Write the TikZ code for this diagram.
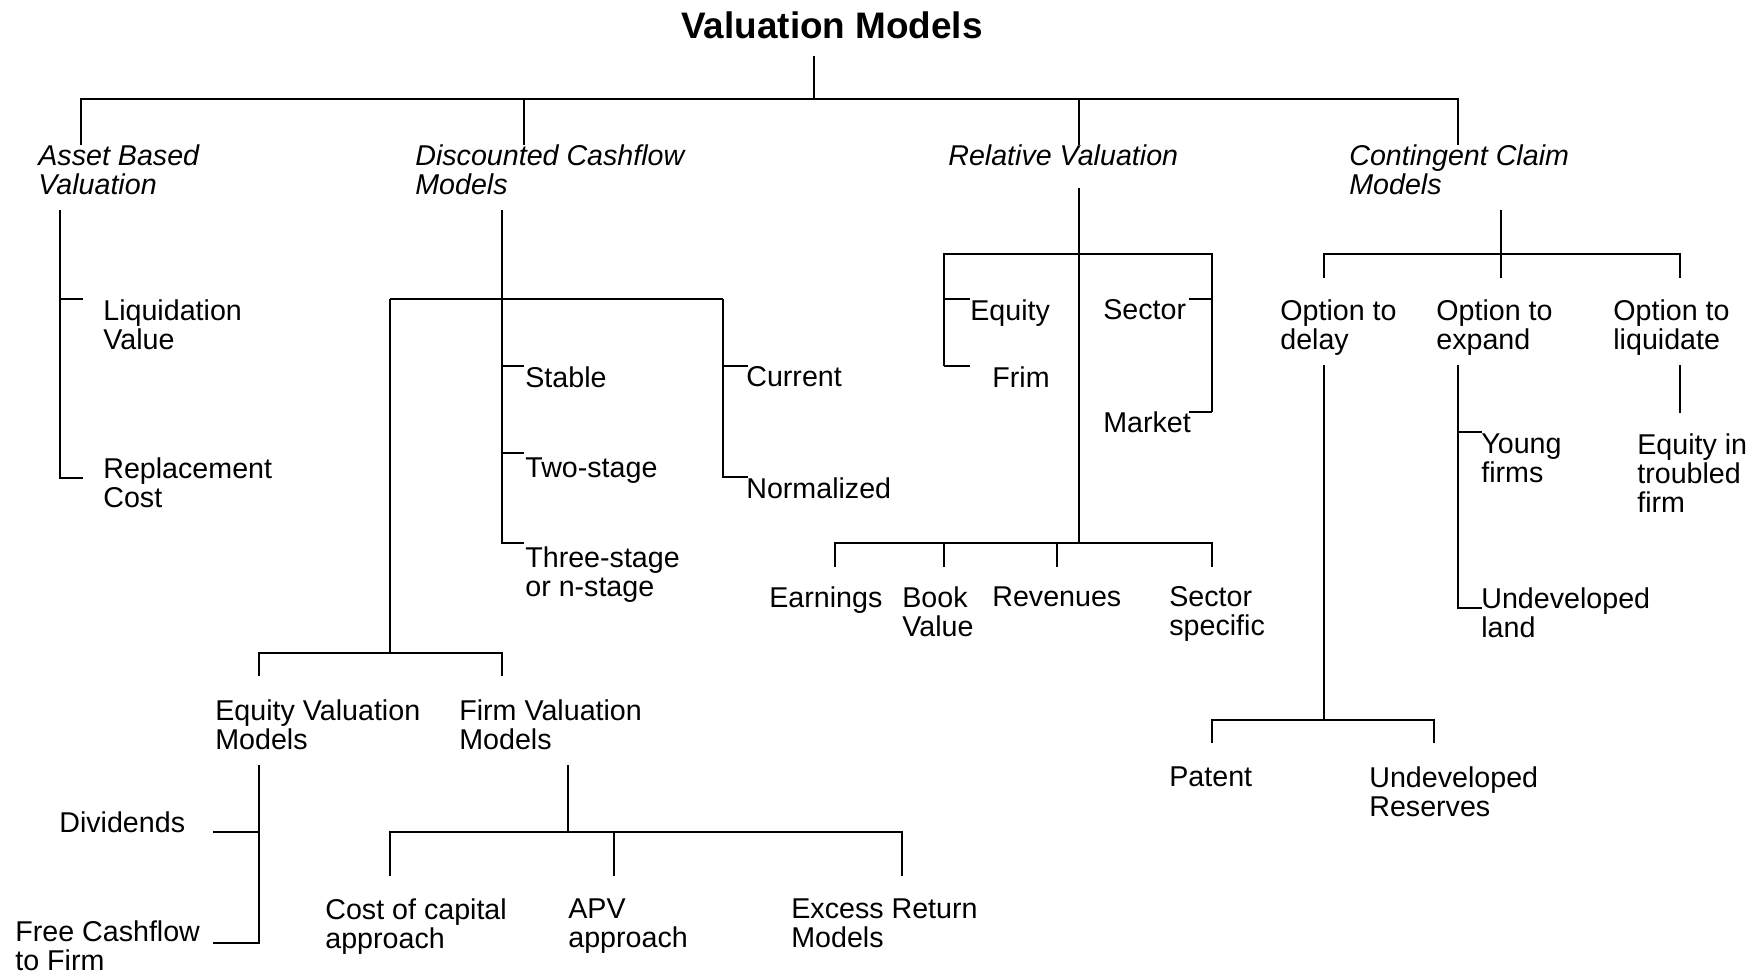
\documentclass[tikz,border=0pt]{standalone}
\usepackage{fontspec}
\setmainfont{Liberation Sans}
\usetikzlibrary{positioning}

\begin{document}
\begin{tikzpicture}[x=0.02cm, y=-0.02cm,
    txt/.style={anchor=north west, inner sep=0pt, align=left,
      font=\fontsize{16.3}{16.5}\selectfont},
    cat/.style={txt, font=\fontsize{16.3}{16.5}\selectfont\itshape},
    ln/.style={line width=1.3pt}]
  \useasboundingbox (0,0) rectangle (1758,974);

  % title and the four groups
  \node[font=\fontsize{21}{22}\selectfont\bfseries] (title) at (832,25) {Valuation Models};
  \node[cat] (asset) at (38,144)   {Asset Based\\Valuation};
  \node[cat] (dcf)   at (415,144)  {Discounted Cashflow\\Models};
  \node[cat] (rel)   at (948,144)  {Relative Valuation};
  \node[cat] (cc)    at (1349,144) {Contingent Claim\\Models};

  \coordinate (t0) at (814,56);
  \coordinate (t1) at (81,99);
  \coordinate (t4) at (1458,99);
  \coordinate (a0) at (81,145);
  \coordinate (b0) at (524,145);
  \coordinate (c0) at (1079,145);
  \coordinate (d0) at (1458,145);
  \draw[ln] (t0) -- (t0 |- t1);
  \draw[ln] (a0) |- (t4) -- (d0);
  \draw[ln] (b0) -- (b0 |- t1);
  \draw[ln] (c0) -- (c0 |- t1);

  % asset based
  \node[txt] (liq) at (103,299) {Liquidation\\Value};
  \node[txt] (rep) at (103,457) {Replacement\\Cost};
  \coordinate (a1) at (60,210);
  \coordinate (a2) at (83,299);
  \coordinate (a3) at (83,478);
  \draw[ln] (a1) |- (a3);
  \draw[ln] (a1 |- a2) -- (a2);

  % discounted cashflow
  \node[txt] (stab)  at (525,366) {Stable};
  \node[txt] (two)   at (525,457) {Two-stage};
  \node[txt] (three) at (525,546) {Three-stage\\or n-stage};
  \node[txt] (cur)   at (746,366) {Current};
  \node[txt] (norm)  at (746,477) {Normalized};
  \coordinate (b1) at (502,210);
  \coordinate (b2) at (524,543);
  \coordinate (b3) at (524,366);
  \coordinate (b4) at (524,453);
  \coordinate (bl) at (390,299);
  \coordinate (br) at (723,299);
  \coordinate (b5) at (748,366);
  \coordinate (b6) at (748,477);
  \coordinate (b7) at (390,653);
  \draw[ln] (b1) |- (b2);
  \draw[ln] (b3 -| b1) -- (b3);
  \draw[ln] (b4 -| b1) -- (b4);
  \draw[ln] (bl) -- (br);
  \draw[ln] (br) |- (b6);
  \draw[ln] (b5 -| br) -- (b5);
  \draw[ln] (bl) -- (b7);

  \node[txt] (eqv) at (215,699) {Equity Valuation\\Models};
  \node[txt] (fiv) at (459,699) {Firm Valuation\\Models};
  \coordinate (e0) at (259,676);
  \coordinate (f0) at (502,676);
  \draw[ln] (e0) |- (b7) -| (f0);

  % equity valuation
  \node[txt] (div) at (59,811) {Dividends};
  \node[txt] (fcf) at (15,920) {Free Cashflow\\to Firm};
  \coordinate (e1) at (259,765);
  \coordinate (e2) at (213,832);
  \coordinate (e3) at (213,943);
  \draw[ln] (e1) |- (e3);
  \draw[ln] (e2) -- (e2 -| e1);

  % firm valuation
  \node[txt] (coc) at (325,898) {Cost of capital\\approach};
  \node[txt] (apv) at (568,898) {APV\\approach};
  \node[txt] (exr) at (791,898) {Excess Return\\Models};
  \coordinate (f1) at (568,765);
  \coordinate (f2) at (568,832);
  \coordinate (g1) at (390,876);
  \coordinate (g2) at (614,876);
  \coordinate (g3) at (902,876);
  \draw[ln] (f1) -- (f2);
  \draw[ln] (g1) |- (f2) -| (g3);
  \draw[ln] (g2) -- (g2 |- f2);

  % relative valuation
  \node[txt] (equ)  at (970,299)  {Equity};
  \node[txt] (frim) at (992,366)  {Frim};
  \node[txt] (sec)  at (1103,299) {Sector};
  \node[txt] (mkt)  at (1103,411) {Market};
  \coordinate (c1) at (1079,188);
  \coordinate (c2) at (1079,543);
  \coordinate (cu) at (1079,254);
  \coordinate (c3) at (944,366);
  \coordinate (c4) at (1212,412);
  \coordinate (c5) at (970,299);
  \coordinate (c6) at (970,366);
  \coordinate (c7) at (1189,299);
  \coordinate (c8) at (1189,412);
  \draw[ln] (c1) -- (c2);
  \draw[ln] (c3) |- (c4 |- cu) -- (c4);
  \draw[ln] (c5 -| c3) -- (c5);
  \draw[ln] (c3) -- (c6);
  \draw[ln] (c7) -- (c7 -| c4);
  \draw[ln] (c8) -- (c4);

  \node[txt] (earn) at (769,586)  {Earnings};
  \node[txt] (book) at (902,586)  {Book\\Value};
  \node[txt] (rev)  at (992,586)  {Revenues};
  \node[txt] (ssp)  at (1169,586) {Sector\\specific};
  \coordinate (h1) at (835,567);
  \coordinate (h2) at (944,567);
  \coordinate (h3) at (1057,567);
  \coordinate (h4) at (1212,567);
  \draw[ln] (h1) |- (c2) -| (h4);
  \draw[ln] (h2) -- (h2 |- c2);
  \draw[ln] (h3) -- (h3 |- c2);

  % contingent claim
  \node[txt] (odel) at (1280,299) {Option to\\delay};
  \node[txt] (oexp) at (1436,299) {Option to\\expand};
  \node[txt] (oliq) at (1613,299) {Option to\\liquidate};
  \coordinate (d1) at (1501,210);
  \coordinate (dj) at (1501,254);
  \coordinate (d2) at (1501,278);
  \coordinate (k1) at (1324,278);
  \coordinate (k3) at (1680,278);
  \draw[ln] (d1) -- (d2);
  \draw[ln] (k1) |- (dj) -| (k3);

  \node[txt] (pat) at (1169,766) {Patent};
  \node[txt] (ures) at (1369,766) {Undeveloped\\Reserves};
  \coordinate (k4) at (1324,365);
  \coordinate (k5) at (1324,720);
  \coordinate (m1) at (1212,743);
  \coordinate (m2) at (1434,743);
  \draw[ln] (k4) -- (k5);
  \draw[ln] (m1) |- (k5) -| (m2);

  \node[txt] (yng)  at (1481,433) {Young\\firms};
  \node[txt] (uland) at (1481,587) {Undeveloped\\land};
  \coordinate (n1) at (1458,365);
  \coordinate (n2) at (1482,432);
  \coordinate (n3) at (1482,608);
  \draw[ln] (n1) |- (n3);
  \draw[ln] (n2 -| n1) -- (n2);

  \node[txt] (eqtf) at (1637,433) {Equity in\\troubled\\firm};
  \coordinate (p1) at (1680,365);
  \coordinate (p2) at (1680,413);
  \draw[ln] (p1) -- (p2);
\end{tikzpicture}
\end{document}
